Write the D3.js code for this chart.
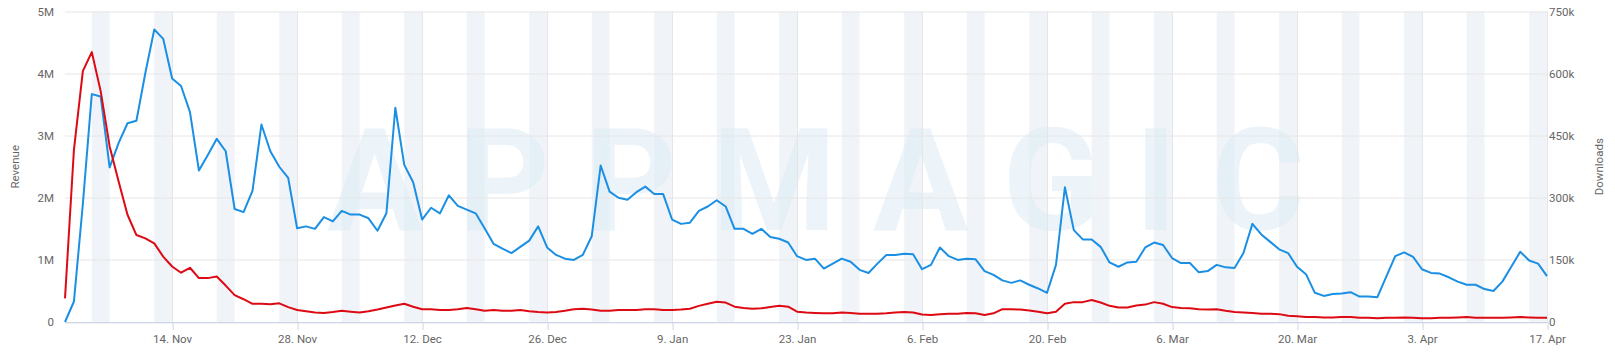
<!DOCTYPE html>
<html>
<head>
<meta charset="utf-8">
<script src="https://cdn.jsdelivr.net/npm/d3@7"></script>
<style>
  body { margin: 0; background: #fff; }
  svg text { font-family: Roboto, "Liberation Sans", sans-serif; }
</style>
</head>
<body>
<div id="chart-area"></div>
<script>
// daily values, first day is startDate
const startDate = "2022-11-02";

// revenue, millions (blue, left axis)
const revenue = [
  0.0, 0.33, 1.9, 3.67, 3.63, 2.49, 2.88, 3.2, 3.24, 4.01,
  4.71, 4.56, 3.92, 3.8, 3.38, 2.44, 2.69, 2.95, 2.75, 1.82,
  1.77, 2.11, 3.18, 2.75, 2.5, 2.32, 1.51, 1.54, 1.5, 1.69,
  1.62, 1.79, 1.73, 1.73, 1.67, 1.47, 1.75, 3.45, 2.53, 2.25,
  1.65, 1.84, 1.75, 2.04, 1.87, 1.81, 1.75, 1.51, 1.26, 1.18,
  1.11, 1.21, 1.31, 1.54, 1.2, 1.08, 1.02, 1.0, 1.08, 1.38,
  2.52, 2.1, 2.0, 1.97, 2.09, 2.18, 2.06, 2.06, 1.65, 1.58,
  1.6, 1.79, 1.86, 1.96, 1.86, 1.5, 1.5, 1.42, 1.5, 1.37,
  1.34, 1.28, 1.06, 1.0, 1.02, 0.86, 0.94, 1.02, 0.97, 0.84,
  0.79, 0.94, 1.08, 1.08, 1.1, 1.09, 0.85, 0.92, 1.2, 1.06,
  1.0, 1.02, 1.01, 0.82, 0.76, 0.67, 0.63, 0.67, 0.6, 0.54,
  0.47, 0.92, 2.17, 1.48, 1.33, 1.33, 1.21, 0.96, 0.89, 0.96,
  0.97, 1.2, 1.28, 1.24, 1.03, 0.95, 0.95, 0.8, 0.82, 0.92,
  0.88, 0.87, 1.11, 1.58, 1.41, 1.29, 1.17, 1.11, 0.89, 0.77,
  0.47, 0.42, 0.45, 0.46, 0.48, 0.41, 0.41, 0.4, 0.73, 1.06,
  1.12, 1.05, 0.85, 0.79, 0.78, 0.72, 0.65, 0.6, 0.6, 0.53,
  0.5, 0.65, 0.89, 1.13, 0.99, 0.94, 0.74
];

// downloads, thousands (red, right axis)
const downloads = [
  57, 416, 606, 652, 557, 424, 340, 259, 210, 202,
  190, 158, 134, 119, 131, 106, 106, 110, 88, 65,
  55, 44, 44, 43, 45, 36, 29, 26, 23, 22,
  24, 27, 25, 23, 26, 30, 35, 40, 44, 37,
  31, 31, 29, 29, 31, 34, 31, 27, 29, 27,
  27, 29, 26, 24, 23, 24, 27, 31, 32, 30,
  27, 27, 29, 29, 29, 31, 31, 29, 29, 30,
  32, 39, 44, 49, 47, 37, 34, 32, 33, 36,
  39, 37, 25, 23, 22, 21, 21, 23, 22, 20,
  20, 20, 21, 23, 24, 23, 18, 17, 19, 20,
  20, 22, 21, 17, 21, 31, 31, 30, 28, 25,
  21, 25, 44, 48, 48, 53, 47, 39, 35, 35,
  40, 42, 48, 44, 36, 34, 33, 31, 30, 31,
  27, 24, 23, 22, 20, 20, 19, 15, 14, 12,
  12, 11, 11, 12, 12, 10, 10, 9, 10, 10,
  11, 10, 9, 9, 10, 10, 11, 12, 10, 10,
  10, 10, 11, 12, 11, 10, 10
];

const xTickDates = ["2022-11-14", "2022-11-28", "2022-12-12", "2022-12-26", "2023-01-09", "2023-01-23",
                    "2023-02-06", "2023-02-20", "2023-03-06", "2023-03-20", "2023-04-03", "2023-04-17"];
const revenueTicks = [0, 1, 2, 3, 4, 5];
const revenueTickLabels = ["0", "1M", "2M", "3M", "4M", "5M"];
const downloadTicks = [0, 150, 300, 450, 600, 750];
const downloadTickLabels = ["0", "150k", "300k", "450k", "600k", "750k"];

const MARGIN = { LEFT: 65, RIGHT: 68, TOP: 11.5, BOTTOM: 32 };
const W = 1615, H = 354;
const WIDTH = W - MARGIN.LEFT - MARGIN.RIGHT;
const HEIGHT = H - MARGIN.TOP - MARGIN.BOTTOM;

const start = new Date(startDate + "T00:00:00Z");
const days = revenue.map((d, i) => d3.utcDay.offset(start, i));
const end = days[days.length - 1];

const svg = d3.select("#chart-area").append("svg")
  .attr("width", W)
  .attr("height", H);

const g = svg.append("g")
  .attr("transform", `translate(${MARGIN.LEFT}, ${MARGIN.TOP})`);

const x = d3.scaleUtc().domain([start, end]).range([0, WIDTH]);
const yLeft = d3.scaleLinear().domain([0, 5]).range([HEIGHT, 0]);
const yRight = d3.scaleLinear().domain([0, 750]).range([HEIGHT, 0]);

// weekend bands (Sat + Sun)
const saturdays = d3.utcSaturday.range(start, end);
g.append("g").selectAll("rect")
  .data(saturdays)
  .join("rect")
  .attr("x", d => x(d))
  .attr("y", 0)
  .attr("width", d => Math.min(x(d3.utcDay.offset(d, 2)), WIDTH) - x(d))
  .attr("height", HEIGHT)
  .attr("fill", "#f0f3f7");

// watermark
g.append("text")
  .attr("x", 262)
  .attr("y", 218)
  .attr("textLength", 978)
  .attr("lengthAdjust", "spacing")
  .attr("font-size", 142)
  .attr("font-weight", "bold")
  .attr("fill", "#dcebf6")
  .attr("fill-opacity", 0.55)
  .text("APPMAGIC");

// horizontal grid
g.append("g").selectAll("line")
  .data(revenueTicks)
  .join("line")
  .attr("x1", 0).attr("x2", WIDTH)
  .attr("y1", d => Math.round(yLeft(d)) + 0.5)
  .attr("y2", d => Math.round(yLeft(d)) + 0.5)
  .attr("stroke", "#e6e6e6");

// vertical grid at ticks
const xTicks = xTickDates.map(d => new Date(d + "T00:00:00Z"));
g.append("g").selectAll("line")
  .data(xTicks)
  .join("line")
  .attr("x1", d => Math.round(x(d)) + 0.5)
  .attr("x2", d => Math.round(x(d)) + 0.5)
  .attr("y1", 0).attr("y2", HEIGHT)
  .attr("stroke", "#e6e6e6");

// bottom axis
const xAxis = g.append("g")
  .attr("transform", `translate(0, ${HEIGHT})`)
  .call(d3.axisBottom(x).tickValues(xTicks).tickFormat(d3.utcFormat("%-d. %b")).tickSize(8).tickSizeOuter(0));
xAxis.select(".domain").attr("stroke", "#ccd6eb");
xAxis.selectAll(".tick line").attr("stroke", "#ccd6eb").attr("transform", "translate(0.5,0)");
xAxis.selectAll(".tick text")
  .attr("fill", "#666666")
  .attr("font-size", 11.5)
  .attr("font-family", "Roboto, sans-serif")
  .attr("dy", "0.9em");

// left axis labels
const leftAxis = g.append("g")
  .call(d3.axisLeft(yLeft).tickValues(revenueTicks).tickFormat((d, i) => revenueTickLabels[i]).tickSize(0).tickPadding(11));
leftAxis.select(".domain").remove();
leftAxis.selectAll(".tick text")
  .attr("fill", "#666666")
  .attr("font-size", 11.5)
  .attr("font-family", "Roboto, sans-serif");

// right axis labels
const rightAxis = g.append("g")
  .attr("transform", `translate(${WIDTH}, 0)`)
  .call(d3.axisRight(yRight).tickValues(downloadTicks).tickFormat((d, i) => downloadTickLabels[i]).tickSize(0).tickPadding(2));
rightAxis.select(".domain").remove();
rightAxis.selectAll(".tick text")
  .attr("fill", "#666666")
  .attr("font-size", 11.5)
  .attr("font-family", "Roboto, sans-serif");

// axis titles
svg.append("text")
  .attr("transform", `translate(19, ${MARGIN.TOP + HEIGHT / 2}) rotate(-90)`)
  .attr("text-anchor", "middle")
  .attr("fill", "#666666")
  .attr("font-size", 11.5)
  .text("Revenue");

svg.append("text")
  .attr("transform", `translate(1603, ${MARGIN.TOP + HEIGHT / 2}) rotate(-90)`)
  .attr("text-anchor", "middle")
  .attr("fill", "#666666")
  .attr("font-size", 11.5)
  .text("Downloads");

// lines
const revenueLine = d3.line()
  .x((d, i) => x(days[i]))
  .y(d => yLeft(d));

const downloadsLine = d3.line()
  .x((d, i) => x(days[i]))
  .y(d => yRight(d));

g.append("path")
  .attr("fill", "none")
  .attr("stroke", "#1a8fe3")
  .attr("stroke-width", 2)
  .attr("stroke-linejoin", "round")
  .attr("d", revenueLine(revenue));

g.append("path")
  .attr("fill", "none")
  .attr("stroke", "#dd0a14")
  .attr("stroke-width", 2)
  .attr("stroke-linejoin", "round")
  .attr("d", downloadsLine(downloads));
</script>
</body>
</html>
